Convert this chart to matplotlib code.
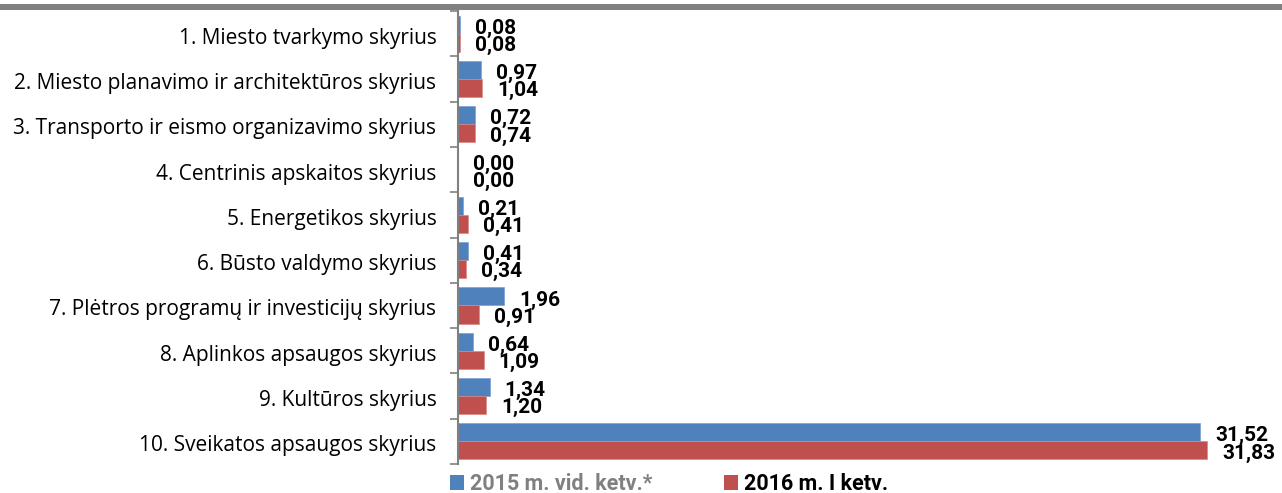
import matplotlib.pyplot as plt
import matplotlib.transforms as mtransforms
import numpy as np
from matplotlib.patches import Patch, Rectangle

categories = [
    "1. Miesto tvarkymo skyrius",
    "2. Miesto planavimo ir architektūros skyrius",
    "3. Transporto ir eismo organizavimo skyrius",
    "4. Centrinis apskaitos skyrius",
    "5. Energetikos skyrius",
    "6. Būsto valdymo skyrius",
    "7. Plėtros programų ir investicijų skyrius",
    "8. Aplinkos apsaugos skyrius",
    "9. Kultūros skyrius",
    "10. Sveikatos apsaugos skyrius",
]
values_2015 = [0.08, 0.97, 0.72, 0.00, 0.21, 0.41, 1.96, 0.64, 1.34, 31.52]
values_2016 = [0.08, 1.04, 0.74, 0.00, 0.41, 0.34, 0.91, 1.09, 1.20, 31.83]
series_names = ["2015 m. vid. ketv.*", "2016 m. I ketv."]

BLUE = "#4f81bd"
RED = "#c0504d"
GRAY = "#808080"

plt.rcParams["font.family"] = ["Open Sans", "DejaVu Sans"]
lab_font = ["Roboto", "DejaVu Sans"]

W, H = 1282, 493
fig = plt.figure(figsize=(W / 100, H / 100), dpi=100)

# top gray rule
fig.patches.append(Rectangle((0, 1 - 10 / H), 1, 6 / H, transform=fig.transFigure,
                             facecolor=GRAY, edgecolor="none"))

ax = fig.add_axes([458 / W, 1 - 464 / H, 1 - 458 / W, (464 - 11) / H])

n = len(categories)
y = np.arange(n)
h = 0.4
ax.barh(y - h / 2, values_2015, height=h, color=BLUE, edgecolor="#7aa0d4", linewidth=0.5)
ax.barh(y + h / 2, values_2016, height=h, color=RED, edgecolor="#d88a88", linewidth=0.5)

ax.set_ylim(n - 0.5, -0.5)
ax.set_xlim(0, 35.0)

for i in range(n):
    ax.text(values_2015[i] + 0.64, y[i] + 0.0, f"{values_2015[i]:.2f}".replace(".", ","),
            va="baseline", ha="left", fontsize=15, fontweight="bold", family=lab_font)
    ax.text(values_2016[i] + 0.64, y[i] + 0.38, f"{values_2016[i]:.2f}".replace(".", ","),
            va="baseline", ha="left", fontsize=15, fontweight="bold", family=lab_font)

ax.set_yticks(np.arange(-0.5, n, 1), minor=False)
ax.set_yticklabels([])
ax.set_yticks(y, minor=True)
ax.set_yticklabels(categories, minor=True, fontsize=15)
ax.tick_params(axis="y", which="major", length=6, color=GRAY, width=1.2, direction="out")
ax.tick_params(axis="y", which="minor", length=0, pad=15.5)
shift = mtransforms.ScaledTranslation(0, -0.02, fig.dpi_scale_trans)
for lbl in ax.get_yticklabels(minor=True):
    lbl.set_transform(lbl.get_transform() + shift)
ax.set_xticks([])
for s in ["top", "right", "bottom"]:
    ax.spines[s].set_visible(False)
ax.spines["left"].set_color(GRAY)
ax.spines["left"].set_linewidth(1.5)

# legend: one entry per series, placed like the original
leg_x = [450, 724]
leg_colors = [BLUE, RED]
leg_text_colors = [GRAY, "black"]
for name, color, tcolor, lx in zip(series_names, leg_colors, leg_text_colors, leg_x):
    leg = fig.legend(handles=[Patch(facecolor=color, edgecolor="none")], labels=[name],
                     loc="center left", bbox_to_anchor=(lx / W, 1 - 484 / H), frameon=False,
                     handlelength=0.65, handleheight=0.7, handletextpad=0.3,
                     borderaxespad=0, borderpad=0,
                     prop={"weight": "bold", "size": 15.5, "family": lab_font})
    leg.get_texts()[0].set_color(tcolor)

fig.savefig("out.png", dpi=100)
